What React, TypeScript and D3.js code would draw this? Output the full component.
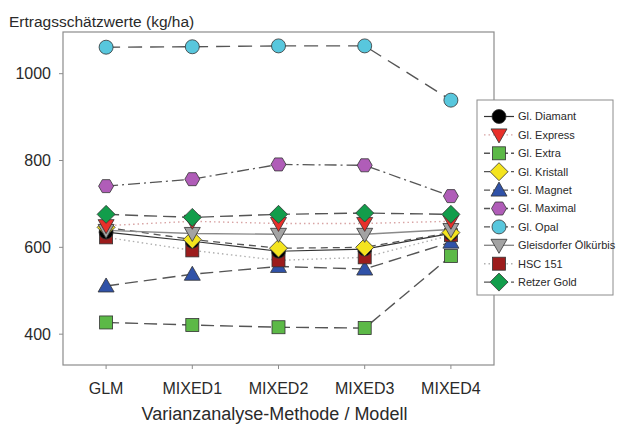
import React from "react";
import * as d3 from "d3";

const categories = ["GLM", "MIXED1", "MIXED2", "MIXED3", "MIXED4"];
const yTicks = [400, 600, 800, 1000];

const seriesNames = [
  "Gl. Diamant",
  "Gl. Express",
  "Gl. Extra",
  "Gl. Kristall",
  "Gl. Magnet",
  "Gl. Maximal",
  "Gl. Opal",
  "Gleisdorfer Ölkürbis",
  "HSC 151",
  "Retzer Gold",
];

const diamant = [635, 614, 591, 596, 632];
const express = [650, 660, 655, 655, 660];
const extra = [427, 421, 416, 414, 580];
const kristall = [646, 618, 598, 600, 634];
const magnet = [511, 538, 556, 550, 612];
const maximal = [741, 757, 791, 789, 718];
const opal = [1061, 1062, 1064, 1064, 939];
const gleisdorfer = [639, 632, 630, 630, 641];
const hsc151 = [623, 593, 570, 577, 628];
const retzer = [676, 669, 676, 679, 676];

const seriesValues = [diamant, express, extra, kristall, magnet, maximal, opal, gleisdorfer, hsc151, retzer];

type Style = { color: string; shape: string; line: string; dash: string; lw: number };
const styles: Style[] = [
  { color: "#000000", shape: "circle", line: "#333333", dash: "", lw: 1.2 },
  { color: "#e8302a", shape: "tridown", line: "#d8a4a4", dash: "1.5,3", lw: 1.4 },
  { color: "#5cb947", shape: "square", line: "#555555", dash: "13,6", lw: 1.4 },
  { color: "#f4e41e", shape: "diamond", line: "#555555", dash: "7,5", lw: 1.3 },
  { color: "#3052a8", shape: "triup", line: "#555555", dash: "13,6", lw: 1.4 },
  { color: "#b05db8", shape: "hexagon", line: "#555555", dash: "12,4,2,4", lw: 1.3 },
  { color: "#58c7dd", shape: "circle", line: "#555555", dash: "14,8", lw: 1.4 },
  { color: "#a3a3a3", shape: "tridown", line: "#8a8a8a", dash: "", lw: 1.4 },
  { color: "#9c1c1c", shape: "square", line: "#b0b0b0", dash: "1.5,3", lw: 1.4 },
  { color: "#129d4b", shape: "diamond", line: "#555555", dash: "13,6", lw: 1.4 },
];

const drawOrder = [2, 4, 8, 0, 3, 7, 1, 5, 6, 9];

function Marker({ x, y, shape, color }: { x: number; y: number; shape: string; color: string }) {
  const stroke = "#333";
  const sw = 0.8;
  if (shape === "circle") return <circle cx={x} cy={y} r={7} fill={color} stroke={stroke} strokeWidth={sw} />;
  if (shape === "square") return <rect x={x - 6.5} y={y - 6.5} width={13} height={13} fill={color} stroke={stroke} strokeWidth={sw} />;
  if (shape === "diamond")
    return <path d={`M${x},${y - 9}L${x + 9},${y}L${x},${y + 9}L${x - 9},${y}Z`} fill={color} stroke={stroke} strokeWidth={sw} />;
  if (shape === "tridown")
    return <path d={`M${x - 8},${y - 6}L${x + 8},${y - 6}L${x},${y + 8}Z`} fill={color} stroke={stroke} strokeWidth={sw} />;
  if (shape === "triup")
    return <path d={`M${x - 8},${y + 6}L${x + 8},${y + 6}L${x},${y - 8}Z`} fill={color} stroke={stroke} strokeWidth={sw} />;
  if (shape === "hexagon") {
    const pts = d3.range(6).map((i) => {
      const a = (Math.PI / 3) * i;
      return `${x + 7.5 * Math.cos(a)},${y + 7.5 * Math.sin(a)}`;
    });
    return <polygon points={pts.join(" ")} fill={color} stroke={stroke} strokeWidth={sw} />;
  }
  return null;
}

export default function App() {
  const W = 625;
  const H = 424;
  const left = 63, right = 494, top = 32, bottom = 365;
  const x = d3.scalePoint<string>().domain(categories).range([left, right]).padding(0.5);
  const y = d3.scaleLinear().domain([329, 1096]).range([bottom, top]);
  const line = d3
    .line<number>()
    .x((_, i) => x(categories[i]) as number)
    .y((d) => y(d));
  const font = "Arial, 'Liberation Sans', sans-serif";
  const legX = 477, legY = 100, legW = 136, legH = 195;
  const legStep = 18.4;
  const legFirst = 116.5;
  const txt = "#2a2a2a";

  return (
    <div>
      <style>{`body{margin:0}`}</style>
      <svg width={W} height={H} style={{ display: "block", fontFamily: font }}>
        <rect x={0} y={0} width={W} height={H} fill="#fff" />
        <text x={9} y={27} fontSize={15.5} fill={txt}>Ertragsschätzwerte (kg/ha)</text>
        <rect x={left} y={top} width={right - left} height={bottom - top} fill="none" stroke="#8c8c8c" strokeWidth={1.2} />
        {yTicks.map((t) => (
          <g key={t}>
            <line x1={left - 4} x2={left} y1={y(t)} y2={y(t)} stroke="#8c8c8c" />
            <text x={51} y={y(t)} dy="0.35em" textAnchor="end" fontSize={16} fill={txt}>{t}</text>
          </g>
        ))}
        {categories.map((c) => (
          <g key={c}>
            <line x1={x(c)} x2={x(c)} y1={bottom} y2={bottom + 4} stroke="#8c8c8c" />
            <text x={x(c)} y={388} dy="0.35em" textAnchor="middle" fontSize={16} fill={txt}>{c}</text>
          </g>
        ))}
        <text x={(left + right) / 2 - 4} y={414} dy="0.35em" textAnchor="middle" fontSize={18} fill={txt}>
          Varianzanalyse-Methode / Modell
        </text>
        {drawOrder.map((si) => (
          <path key={"l" + si} d={line(seriesValues[si]) || ""} fill="none" stroke={styles[si].line}
            strokeWidth={styles[si].lw} strokeDasharray={styles[si].dash || undefined} />
        ))}
        {drawOrder.map((si) => (
          <g key={"m" + si}>
            {seriesValues[si].map((v, i) => (
              <Marker key={i} x={x(categories[i]) as number} y={y(v)} shape={styles[si].shape} color={styles[si].color} />
            ))}
          </g>
        ))}
        <rect x={legX} y={legY} width={legW} height={legH} fill="#fff" stroke="#8c8c8c" strokeWidth={1} />
        {seriesNames.map((n, i) => {
          const ly = legFirst + i * legStep;
          const s = styles[i];
          return (
            <g key={n}>
              <line x1={484} x2={514} y1={ly} y2={ly} stroke={s.line} strokeWidth={s.lw}
                strokeDasharray={s.dash ? (s.dash.startsWith("1.5") ? "1.5,3" : "6,3") : undefined} />
              <Marker x={499} y={ly} shape={s.shape} color={s.color} />
              <text x={518} y={ly} dy="0.35em" fontSize={11} fill={txt}>{n}</text>
            </g>
          );
        })}
      </svg>
    </div>
  );
}
